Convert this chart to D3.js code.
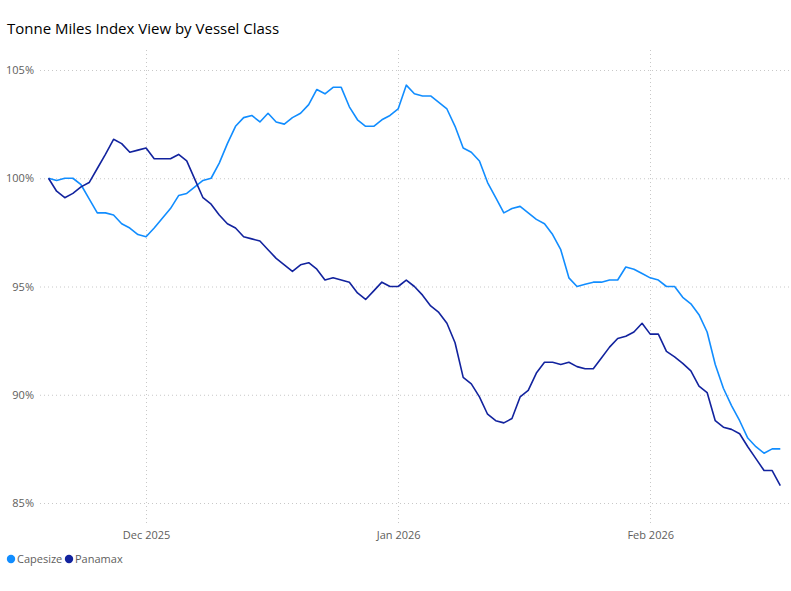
<!DOCTYPE html>
<html>
<head>
<meta charset="utf-8">
<script src="https://cdn.jsdelivr.net/npm/d3@7"></script>
<style>
  body { margin: 0; background: #fff; }
  svg { display: block; }
  .grid line { stroke: #c8c8c8; stroke-dasharray: 1,3; }
  .axis text { fill: #605e5c; font-family: "Open Sans", "Noto Sans", sans-serif; font-size: 11px; }
</style>
</head>
<body>
<svg id="chart" width="791" height="591"></svg>
<script>
// data, one value per day from 19 Nov 2025
var startDate = new Date(2025, 10, 19);
var endDate = new Date(2026, 1, 17);

var capesize = [
  100.0, 99.9, 100.0, 100.0, 99.7, 99.05, 98.4, 98.4, 98.3, 97.9,
  97.7, 97.4, 97.3, 97.7, 98.15, 98.6, 99.2, 99.3, 99.6, 99.9,
  100.0, 100.7, 101.6, 102.4, 102.8, 102.9, 102.6, 103.0, 102.6, 102.5,
  102.8, 103.0, 103.4, 104.1, 103.9, 104.2, 104.2, 103.3, 102.7, 102.4,
  102.4, 102.7, 102.9, 103.2, 104.3, 103.9, 103.8, 103.8, 103.5, 103.2,
  102.4, 101.4, 101.2, 100.8, 99.8, 99.1, 98.4, 98.6, 98.7, 98.4,
  98.1, 97.9, 97.4, 96.7, 95.4, 95.0, 95.1, 95.2, 95.2, 95.3,
  95.3, 95.9, 95.8, 95.6, 95.4, 95.3, 95.0, 95.0, 94.5, 94.2,
  93.7, 92.9, 91.4, 90.3, 89.5, 88.8, 88.0, 87.6, 87.3, 87.5,
  87.5
];

var panamax = [
  100.0, 99.4, 99.1, 99.3, 99.6, 99.8, 100.45, 101.1, 101.8, 101.6,
  101.2, 101.3, 101.4, 100.9, 100.9, 100.9, 101.1, 100.8, 99.95, 99.1,
  98.8, 98.3, 97.9, 97.7, 97.3, 97.2, 97.1, 96.7, 96.3, 96.0,
  95.7, 96.0, 96.1, 95.8, 95.3, 95.4, 95.3, 95.2, 94.7, 94.4,
  94.8, 95.2, 95.0, 95.0, 95.3, 95.0, 94.6, 94.1, 93.8, 93.3,
  92.4, 90.8, 90.5, 89.9, 89.1, 88.8, 88.7, 88.9, 89.9, 90.2,
  91.0, 91.5, 91.5, 91.4, 91.5, 91.3, 91.2, 91.2, 91.7, 92.2,
  92.6, 92.7, 92.9, 93.3, 92.8, 92.8, 92.0, 91.75, 91.45, 91.1,
  90.4, 90.1, 88.8, 88.5, 88.4, 88.2, 87.6, 87.05, 86.5, 86.5,
  85.8
];

var seriesNames = ["Capesize", "Panamax"];
var seriesColors = ["#118dff", "#12239e"];
var yTicks = [85, 90, 95, 100, 105];
var xTicks = [new Date(2025, 11, 1), new Date(2026, 0, 1), new Date(2026, 1, 1)];
var xTickLabels = ["Dec 2025", "Jan 2026", "Feb 2026"];

var days = d3.timeDay.range(startDate, d3.timeDay.offset(endDate, 1));

var svg = d3.select("#chart");
var plotLeft = 40, plotRight = 790, plotTop = 50, plotBottom = 526;

var x = d3.scaleTime()
  .domain([startDate, endDate])
  .range([48.5, 780.3]);

var y = d3.scaleLinear()
  .domain([85, 105])
  .range([503, 70]);

// title
svg.append("text")
  .attr("x", 7)
  .attr("y", 34)
  .attr("fill", "#000")
  .attr("font-family", "'Open Sans', 'Noto Sans', sans-serif")
  .attr("font-size", "15px")
  .attr("font-weight", "normal")
  .text("Tonne Miles Index View by Vessel Class");

// horizontal grid
svg.append("g")
  .attr("class", "grid")
  .selectAll("line")
  .data(yTicks)
  .enter().append("line")
  .attr("x1", plotLeft)
  .attr("x2", plotRight)
  .attr("y1", function(d) { return y(d) + 0.5; })
  .attr("y2", function(d) { return y(d) + 0.5; });

// vertical grid
svg.append("g")
  .attr("class", "grid")
  .selectAll("line")
  .data(xTicks)
  .enter().append("line")
  .attr("x1", function(d) { return Math.round(x(d)) + 0.5; })
  .attr("x2", function(d) { return Math.round(x(d)) + 0.5; })
  .attr("y1", plotTop)
  .attr("y2", plotBottom);

// y axis
var yAxis = svg.append("g")
  .attr("class", "axis")
  .attr("transform", "translate(34,0)")
  .call(d3.axisLeft(y).tickValues(yTicks).tickSize(0).tickPadding(0)
    .tickFormat(function(d) { return d + "%"; }));
yAxis.select(".domain").remove();

// x axis
var xAxis = svg.append("g")
  .attr("class", "axis")
  .attr("transform", "translate(0,526)")
  .call(d3.axisBottom(x).tickValues(xTicks).tickSize(0).tickPadding(5)
    .tickFormat(function(d, i) { return xTickLabels[i]; }));
xAxis.select(".domain").remove();

// lines
var line = d3.line()
  .x(function(d, i) { return x(days[i]); })
  .y(function(d) { return y(d); });

[capesize, panamax].forEach(function(values, s) {
  svg.append("path")
    .datum(values)
    .attr("fill", "none")
    .attr("stroke", seriesColors[s])
    .attr("stroke-width", 1.6)
    .attr("stroke-linejoin", "round")
    .attr("d", line);
});

// legend
var legend = svg.append("g").attr("transform", "translate(0,559)");
var legendX = [11, 69];
seriesNames.forEach(function(name, i) {
  legend.append("circle")
    .attr("cx", legendX[i])
    .attr("cy", 0)
    .attr("r", 4.2)
    .attr("fill", seriesColors[i]);
  legend.append("text")
    .attr("x", legendX[i] + 6)
    .attr("y", 4)
    .attr("fill", "#605e5c")
    .attr("font-family", "'Open Sans', 'Noto Sans', sans-serif")
    .attr("font-size", "11px")
    .text(name);
});
</script>
</body>
</html>
